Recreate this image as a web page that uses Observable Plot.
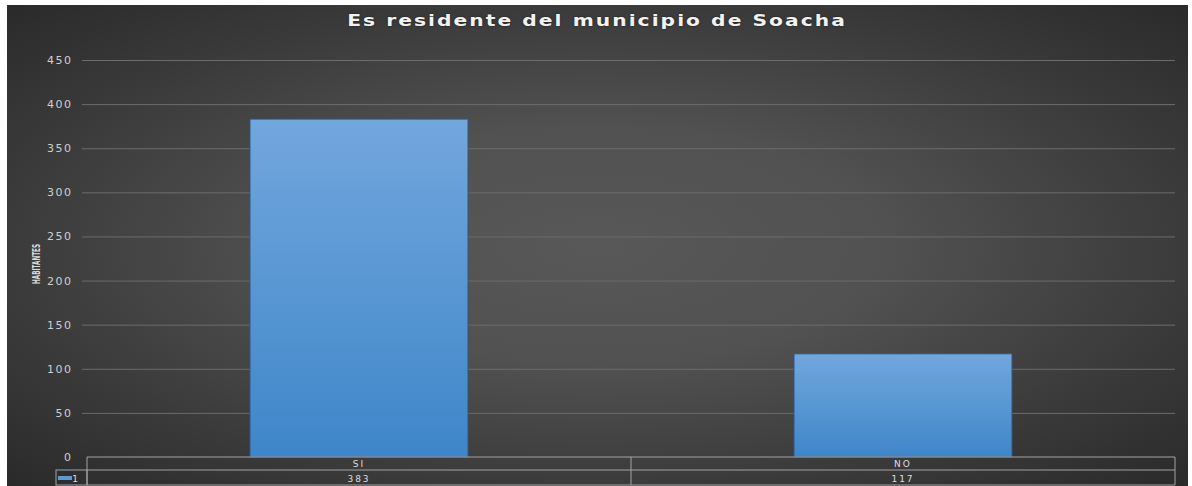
<!DOCTYPE html>
<html><head><meta charset="utf-8">
<script src="https://cdn.jsdelivr.net/npm/d3@7"></script>
<script src="https://cdn.jsdelivr.net/npm/@observablehq/plot@0.6"></script>
<style>
html,body{margin:0;padding:0;background:#fff;width:1192px;height:486px;overflow:hidden}
#chart{position:absolute;left:7px;top:5px;width:1181px;height:481px;
 background:radial-gradient(ellipse at 50% 50%, #585858 0%, #515151 35%, #3b3b3b 70%, #2a2a2a 100%);}
#title{position:absolute;left:0;width:100%;top:7px;text-align:center;}
#title span{display:inline-block;font:bold 15px "DejaVu Sans",sans-serif;letter-spacing:1.5px;color:#f2f2f2;text-shadow:0 0 2px rgba(0,0,0,.6);transform:scaleX(1.35);transform-origin:50% 50%}
#plot{position:absolute;left:0;top:40px}
</style></head><body>
<div id="chart"><div id="title"><span id="titleText"></span></div><div id="plot"></div></div>
<script>
const categories = ["SI", "NO"];
const values = [383, 117];
const seriesName = "1";
const yTicks = [0, 50, 100, 150, 200, 250, 300, 350, 400, 450];
const yLabel = "HABITANTES";
const titleText = "Es residente del municipio de Soacha";

document.getElementById("titleText").textContent = titleText;
const data = categories.map((c, i) => ({cat: c, value: values[i]}));

const W = 1181, H = 441, ML = 80, MR = 13, MT = 15, MB = 29;

const plot = Plot.plot({
  width: W, height: H,
  marginLeft: ML, marginRight: MR, marginTop: MT, marginBottom: MB,
  style: {background: "transparent", color: "#d0d0d0", fontFamily: "DejaVu Sans, sans-serif"},
  x: {domain: categories, paddingInner: 0.6, paddingOuter: 0.3, axis: null},
  y: {domain: [0, 450], axis: null},
  marks: [
    Plot.ruleY(yTicks.filter(d => d > 0), {stroke: "#6c6c6c", strokeWidth: 1, insetLeft: -5}),
    Plot.barY(data, {x: "cat", y: "value", fill: "url(#barGrad)", stroke: "#2e5680", strokeWidth: 1.2, strokeOpacity: 0.8}),
    Plot.axisY({ticks: yTicks, tickSize: 0, tickPadding: 15, tickFormat: d => String(d), fontSize: 11, label: null, fill: "#cfcfcf"}),
    Plot.text([yLabel], {frameAnchor: "left", textAnchor: "middle", rotate: -90, dx: -51, dy: 5, fontWeight: "bold", fontSize: 11,
      fontFamily: "DejaVu Sans Condensed, sans-serif", fill: "#dcdcdc"})
  ]
});
document.getElementById("plot").appendChild(plot);

const svg = d3.select(plot);
const defs = svg.insert("defs", ":first-child");
const g = defs.append("linearGradient").attr("id", "barGrad").attr("x1", 0).attr("y1", 0).attr("x2", 0).attr("y2", 1);
g.append("stop").attr("offset", "0%").attr("stop-color", "#72a7dd");
g.append("stop").attr("offset", "100%").attr("stop-color", "#3e86c9");

svg.selectAll("text").filter(function() { return this.textContent === yLabel; })
  .attr("textLength", 40).attr("lengthAdjust", "spacingAndGlyphs");
svg.selectAll("g[aria-label='y-axis tick label'] text").style("letter-spacing", "1.5px");

// data table under the axis, positioned with Plot's scales
const sx = plot.scale("x"), sy = plot.scale("y");
const y0 = sy.apply(0);
const x0 = sx.range[0], x1 = sx.range[1];
const gap = (sx.step - sx.bandwidth) / 2;
const tg = svg.append("g").attr("font-family", "DejaVu Sans, sans-serif").attr("font-size", 9).attr("fill", "#dedede");
const lineC = "#a3a3a3";
[y0, y0 + 13, y0 + 28].forEach(yy =>
  tg.append("line").attr("x1", x0).attr("x2", x1).attr("y1", yy).attr("y2", yy).attr("stroke", lineC));
const bounds = categories.map(c => sx.apply(c) - gap).concat([x1]);
bounds.forEach(xx =>
  tg.append("line").attr("x1", xx).attr("x2", xx).attr("y1", y0).attr("y2", y0 + 28).attr("stroke", lineC));
categories.forEach((c, i) => {
  const cx = sx.apply(c) + sx.bandwidth / 2;
  tg.append("text").attr("x", cx).attr("y", y0 + 10).attr("text-anchor", "middle").style("letter-spacing", "2px").text(c);
  tg.append("text").attr("x", cx).attr("y", y0 + 24.5).attr("text-anchor", "middle").style("letter-spacing", "2px").text(values[i]);
});
// legend key cell
tg.append("rect").attr("x", 49).attr("y", y0 + 13).attr("width", x0 - 49).attr("height", 15).attr("fill", "none").attr("stroke", lineC);
tg.append("rect").attr("x", 51).attr("y", y0 + 19).attr("width", 14).attr("height", 4).attr("fill", "#5b9bd5");
tg.append("text").attr("x", 68).attr("y", y0 + 24.5).text(seriesName);
</script>
</body></html>
